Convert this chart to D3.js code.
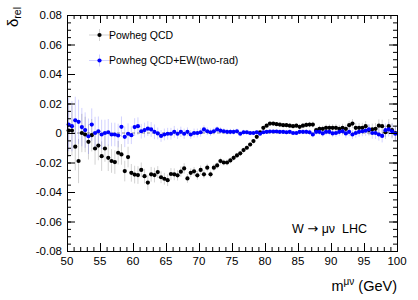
<!DOCTYPE html>
<html>
<head>
<meta charset="utf-8">
<script src="https://cdn.jsdelivr.net/npm/d3@7"></script>
<style>
  body { margin: 0; background: #fff; }
  svg { display: block; font-family: "Liberation Sans", Arial, Helvetica, sans-serif; }
</style>
</head>
<body>
<div id="content"></div>
<script>
// Chart dimensions
const width = 418;
const height = 300;
const margin = {top: 15, right: 21, bottom: 49, left: 67};

// bin centres, 0.5 GeV bins from 50 to 100
const mass = d3.range(100).map(i => 50.25 + 0.5 * i);

// Powheg QCD (black)
const qcd = [
  0.0017, 0.0017, -0.0093, -0.0190, 0.0000, -0.0010, -0.0060, -0.0015, -0.0105, -0.0085,
  -0.0157, -0.0105, -0.0168, -0.0190, -0.0197, -0.0134, -0.0145, -0.0258, -0.0163, -0.0270,
  -0.0282, -0.0285, -0.0250, -0.0293, -0.0336, -0.0280, -0.0285, -0.0265, -0.0300, -0.0310,
  -0.0320, -0.0278, -0.0280, -0.0287, -0.0262, -0.0240, -0.0308, -0.0270, -0.0260, -0.0287,
  -0.0250, -0.0280, -0.0235, -0.0280, -0.0235, -0.0220, -0.0190, -0.0200, -0.0200, -0.0186,
  -0.0168, -0.0152, -0.0138, -0.0116, -0.0100, -0.0078, -0.0055, -0.0026, 0.0005, 0.0035,
  0.0050, 0.0064, 0.0064, 0.0060, 0.0057, 0.0053, 0.0053, 0.0050, 0.0046, 0.0050,
  0.0042, 0.0050, 0.0055, 0.0057, 0.0057, 0.0019, 0.0028, 0.0028, 0.0035, 0.0035,
  0.0035, 0.0035, 0.0028, 0.0035, 0.0028, 0.0053, 0.0064, 0.0035, 0.0035, 0.0035,
  0.0046, 0.0020, 0.0025, 0.0028, 0.0050, 0.0046, 0.0005, 0.0046, 0.0019, 0.0000
];

// Powheg QCD+EW(two-rad) (blue)
const qcdew = [
  0.0057, 0.0046, 0.0086, 0.0076, 0.0040, 0.0020, -0.0022, 0.0057, 0.0000, 0.0012,
  -0.0010, 0.0000, 0.0005, -0.0010, -0.0010, -0.0017, 0.0042, -0.0026, -0.0005, -0.0015,
  0.0040, 0.0046, 0.0012, 0.0020, 0.0030, 0.0024, 0.0008, -0.0003, -0.0020, -0.0010,
  -0.0005, -0.0005, 0.0008, -0.0005, 0.0008, -0.0005, 0.0008, -0.0010, 0.0000, 0.0000,
  0.0005, 0.0024, 0.0012, 0.0005, 0.0012, 0.0024, 0.0016, 0.0012, 0.0008, 0.0008,
  0.0008, 0.0012, -0.0005, 0.0005, 0.0005, 0.0000, 0.0000, 0.0005, -0.0005, 0.0005,
  0.0008, 0.0010, 0.0010, 0.0010, 0.0008, 0.0008, 0.0005, 0.0008, 0.0000, 0.0000,
  0.0008, 0.0008, 0.0008, 0.0005, -0.0010, 0.0008, 0.0008, -0.0003, 0.0008, 0.0008,
  -0.0003, 0.0000, 0.0008, 0.0012, -0.0003, 0.0008, -0.0010, 0.0000, 0.0008, 0.0012,
  0.0016, 0.0024, 0.0000, 0.0000, -0.0010, -0.0020, 0.0019, 0.0024, 0.0012, -0.0005
];

// statistical errors (same sample size for both)
const errors = [
  0.018, 0.017, 0.016, 0.015, 0.013, 0.012, 0.012, 0.011, 0.011, 0.010,
  0.010, 0.009, 0.009, 0.008, 0.008, 0.008, 0.007, 0.007, 0.007, 0.006,
  0.006, 0.006, 0.005, 0.005, 0.005, 0.005, 0.005, 0.004, 0.004, 0.004,
  0.004, 0.004, 0.004, 0.0035, 0.0035, 0.0035, 0.003, 0.003, 0.003, 0.003,
  0.003, 0.0028, 0.0026, 0.0025, 0.0024, 0.0022, 0.0022, 0.002, 0.002, 0.002,
  0.002, 0.0018, 0.0018, 0.0017, 0.0016, 0.0015, 0.0015, 0.0014, 0.0013, 0.0012,
  0.0012, 0.0012, 0.0012, 0.0012, 0.0013, 0.0013, 0.0014, 0.0014, 0.0015, 0.0015,
  0.0016, 0.0017, 0.0018, 0.0019, 0.002, 0.002, 0.0021, 0.0022, 0.0023, 0.0024,
  0.0025, 0.0026, 0.0027, 0.0028, 0.0029, 0.003, 0.0031, 0.0032, 0.0033, 0.0034,
  0.0035, 0.0037, 0.0039, 0.004, 0.0042, 0.0044, 0.0046, 0.0048, 0.005, 0.0052
];

const xTicks = [50, 55, 60, 65, 70, 75, 80, 85, 90, 95, 100];
const yTicks = [-0.08, -0.06, -0.04, -0.02, 0, 0.02, 0.04, 0.06, 0.08];
const yTickLabels = ["-0.08", "-0.06", "-0.04", "-0.02", "0", "0.02", "0.04", "0.06", "0.08"];

const series = [
  {name: "Powheg QCD", values: qcd, color: "#000000", errColor: "#000000"},
  {name: "Powheg QCD+EW(two-rad)", values: qcdew, color: "#0000ff", errColor: "#0000ff"}
];

var svg = d3.select("#content").append("svg")
    .attr("width", width)
    .attr("height", height);

svg.append("rect").attr("width", width).attr("height", height).attr("fill", "#fff");

var x = d3.scaleLinear().domain([50, 100]).range([margin.left, width - margin.right]);
var y = d3.scaleLinear().domain([-0.08, 0.08]).range([height - margin.bottom, margin.top]);

// zero line
svg.append("line")
    .attr("x1", x(50)).attr("x2", x(100))
    .attr("y1", y(0)).attr("y2", y(0))
    .attr("stroke", "#777")
    .attr("stroke-width", 0.8)
    .attr("stroke-dasharray", "3,2");

// error bars first, then markers
series.forEach(s => {
    var g = svg.append("g");
    mass.forEach((m, i) => {
        g.append("line")
            .attr("x1", x(m)).attr("x2", x(m))
            .attr("y1", y(s.values[i] + errors[i]))
            .attr("y2", y(s.values[i] - errors[i]))
            .attr("stroke", s.errColor)
            .attr("stroke-opacity", 0.18)
            .attr("stroke-width", 1);
        g.append("line")
            .attr("x1", x(m - 0.25)).attr("x2", x(m + 0.25))
            .attr("y1", y(s.values[i])).attr("y2", y(s.values[i]))
            .attr("stroke", s.errColor)
            .attr("stroke-opacity", 0.18)
            .attr("stroke-width", 1);
    });
});

series.forEach(s => {
    svg.append("g").selectAll("circle")
        .data(mass)
        .join("circle")
        .attr("cx", d => x(d))
        .attr("cy", (d, i) => y(s.values[i]))
        .attr("r", 2.1)
        .attr("fill", s.color);
});

// axes, ROOT style: ticks pointing inwards on all four sides
var minorX = d3.range(50, 101, 1);
var minorY = d3.range(-16, 17).map(k => k * 0.005);

var axes = [
    svg.append("g").attr("transform", `translate(0,${y(-0.08)})`)
        .call(d3.axisTop(x).tickValues(xTicks).tickSize(8).tickFormat("")),
    svg.append("g").attr("transform", `translate(0,${y(-0.08)})`)
        .call(d3.axisTop(x).tickValues(minorX).tickSize(4).tickFormat("")),
    svg.append("g").attr("transform", `translate(0,${y(0.08)})`)
        .call(d3.axisBottom(x).tickValues(xTicks).tickSize(8).tickFormat("")),
    svg.append("g").attr("transform", `translate(0,${y(0.08)})`)
        .call(d3.axisBottom(x).tickValues(minorX).tickSize(4).tickFormat("")),
    svg.append("g").attr("transform", `translate(${x(50)},0)`)
        .call(d3.axisRight(y).tickValues(yTicks).tickSize(8).tickFormat("")),
    svg.append("g").attr("transform", `translate(${x(50)},0)`)
        .call(d3.axisRight(y).tickValues(minorY).tickSize(4).tickFormat("")),
    svg.append("g").attr("transform", `translate(${x(100)},0)`)
        .call(d3.axisLeft(y).tickValues(yTicks).tickSize(8).tickFormat("")),
    svg.append("g").attr("transform", `translate(${x(100)},0)`)
        .call(d3.axisLeft(y).tickValues(minorY).tickSize(4).tickFormat(""))
];

axes.forEach(g => {
    g.select(".domain").attr("stroke", "#000").attr("stroke-width", 1);
    g.selectAll(".tick line").attr("stroke", "#000").attr("stroke-width", 1);
});

// tick labels
svg.append("g").selectAll("text")
    .data(xTicks)
    .join("text")
    .attr("x", d => x(d))
    .attr("y", 265)
    .attr("text-anchor", "middle")
    .attr("font-size", 11.5)
    .text(d => d);

svg.append("g").selectAll("text")
    .data(yTicks)
    .join("text")
    .attr("x", 62)
    .attr("y", d => y(d))
    .attr("dy", "0.36em")
    .attr("text-anchor", "end")
    .attr("font-size", 11.5)
    .text((d, i) => yTickLabels[i]);

// axis titles
var ylab = svg.append("text")
    .attr("transform", "translate(17.5,7) rotate(-90)")
    .attr("text-anchor", "end");
ylab.append("tspan").attr("font-size", 15).text("δ");
ylab.append("tspan").attr("font-size", 10.5).attr("dy", 3).text("rel");

var xlab = svg.append("text")
    .attr("x", x(100))
    .attr("y", 291)
    .attr("text-anchor", "end")
    .attr("font-size", 14.5);
xlab.append("tspan").text("m");
xlab.append("tspan").attr("font-size", 10).attr("dy", -6).text("μν");
xlab.append("tspan").attr("dy", 6).text(" (GeV)");

var label = svg.append("text")
    .attr("x", 292)
    .attr("y", 233)
    .attr("font-size", 12.5)
    .attr("xml:space", "preserve");
label.append("tspan").text("W ");
label.append("tspan").attr("font-family", "DejaVu Sans").attr("font-size", 13).text("→");
label.append("tspan").text(" μν  LHC");

// legend
var legend = svg.append("g");
series.forEach((s, i) => {
    var ly = 35 + i * 25.5;
    legend.append("line")
        .attr("x1", 89).attr("x2", 110).attr("y1", ly).attr("y2", ly)
        .attr("stroke", s.errColor).attr("stroke-opacity", 0.18);
    legend.append("line")
        .attr("x1", 99.5).attr("x2", 99.5).attr("y1", ly - 6).attr("y2", ly + 6)
        .attr("stroke", s.errColor).attr("stroke-opacity", 0.18);
    legend.append("circle")
        .attr("cx", 99.5).attr("cy", ly).attr("r", 2.1).attr("fill", s.color);
    legend.append("text")
        .attr("x", 109)
        .attr("y", ly)
        .attr("dy", "0.35em")
        .attr("font-size", 10.5)
        .text(s.name);
});
</script>
</body>
</html>
